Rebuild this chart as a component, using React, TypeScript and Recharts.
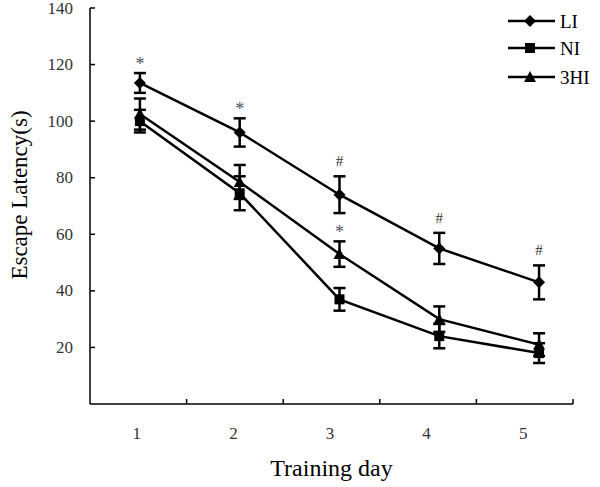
import React from "react";
import {
  LineChart,
  Line,
  XAxis,
  YAxis,
  ErrorBar,
  LabelList,
  Legend,
} from "recharts";

const days = [1, 2, 3, 4, 5];
const li = [113.5, 96, 74, 55, 43];
const liErr = [3.5, 5, 6.5, 5.5, 6];
const ni = [100, 74.5, 37, 24, 18];
const niErr = [4, 6, 4, 4.3, 3.5];
const hi3 = [102.5, 78.5, 53, 30, 21];
const hi3Err = [5.5, 6, 4.5, 4.5, 4];
const liMarks = ["*", "*", "#", "#", "#"];
const hi3Marks = ["", "", "*", "", ""];
const yTicks = [20, 40, 60, 80, 100, 120, 140];
const boundaryTicks = days.map((d) => d + 0.5);

const data = days.map((day, i) => ({
  day,
  li: li[i],
  liErr: liErr[i],
  liTop: li[i] + liErr[i],
  liMark: liMarks[i],
  ni: ni[i],
  niErr: niErr[i],
  hi3: hi3[i],
  hi3Err: hi3Err[i],
  hi3Top: hi3[i] + hi3Err[i],
  hi3Mark: hi3Marks[i],
}));

const FONT = "'Liberation Serif', 'Times New Roman', serif";

function Diamond({ cx, cy, r = 6 }: any) {
  return <path d={`M${cx},${cy - r} L${cx + r},${cy} L${cx},${cy + r} L${cx - r},${cy} Z`} fill="#000" />;
}
function Square({ cx, cy, r = 5 }: any) {
  return <rect x={cx - r} y={cy - r} width={r * 2} height={r * 2} fill="#000" />;
}
function Triangle({ cx, cy, r = 6 }: any) {
  return <path d={`M${cx},${cy - r} L${cx + r},${cy + r - 1} L${cx - r},${cy + r - 1} Z`} fill="#000" />;
}

const YTick = ({ x, y, payload }: any) => (
  <g>
    <line x1={x} x2={x + 5} y1={y} y2={y} stroke="#000" strokeWidth={1.5} />
    <text x={x - 17} y={y} textAnchor="end" dominantBaseline="central" fontSize={17} fill="#333" fontFamily={FONT}>
      {payload.value}
    </text>
  </g>
);

// integer ticks carry the day label, half ticks are the short inward marks between days
const XTick = ({ x, y, payload }: any) => {
  if (Number.isInteger(payload.value)) {
    return (
      <text x={x - 1.5} y={y + 29} textAnchor="middle" dominantBaseline="central" fontSize={17} fill="#333" fontFamily={FONT}>
        {payload.value}
      </text>
    );
  }
  return <line x1={x} x2={x} y1={y} y2={y - 5} stroke="#000" strokeWidth={1.5} />;
};

const Mark = ({ x, y, value }: any) => {
  if (!value) return null;
  const star = value === "*";
  return (
    <text
      x={x}
      y={star ? y - 9 : y - 15}
      textAnchor="middle"
      dominantBaseline="central"
      fontSize={star ? 18 : 15}
      fill={star ? "#4a5060" : "#333"}
      fontFamily={FONT}
    >
      {value}
    </text>
  );
};

const legendItems = [
  { name: "LI", Shape: Diamond },
  { name: "NI", Shape: Square },
  { name: "3HI", Shape: Triangle },
];
const legendRows = [21, 48, 77];

// legend drawn in page coordinates, wrapper pinned to the top left corner
const LegendBox = () => (
  <svg width={600} height={100} style={{ display: "block", overflow: "visible" }}>
    {legendItems.map((it, i) => {
      const cy = legendRows[i];
      return (
        <g key={it.name}>
          <line x1={508} x2={555} y1={cy} y2={cy} stroke="#000" strokeWidth={2.5} />
          <it.Shape cx={530} cy={cy} />
          <text x={560} y={cy} dominantBaseline="central" fontSize={19} fill="#000" fontFamily={FONT}>
            {it.name}
          </text>
        </g>
      );
    })}
  </svg>
);

export default function App() {
  return (
    <div style={{ position: "absolute", left: 0, top: 0, background: "#fff" }}>
      <LineChart width={600} height={487} data={data} margin={{ top: 8, right: 27, bottom: 0, left: 0 }}>
        <XAxis
          xAxisId="labels"
          dataKey="day"
          type="number"
          domain={[0.5, 5.5]}
          allowDataOverflow
          ticks={[...days, ...boundaryTicks].sort((a, b) => a - b)}
          interval={0}
          height={83}
          tickSize={0}
          tickMargin={0}
          tickLine={false}
          tick={<XTick />}
          axisLine={{ stroke: "#000", strokeWidth: 1.5 }}
          label={({ viewBox }: any) => (
            <text
              x={viewBox.x + viewBox.width / 2}
              y={468}
              textAnchor="middle"
              dominantBaseline="central"
              fontSize={24}
              fill="#000"
              fontFamily={FONT}
            >
              Training day
            </text>
          )}
        />
        <XAxis xAxisId="series" dataKey="day" type="number" domain={[0.5, 5.34]} allowDataOverflow hide />
        <YAxis
          domain={[0, 140]}
          ticks={yTicks}
          width={90}
          interval={0}
          tickSize={0}
          tickMargin={0}
          tickLine={false}
          tick={<YTick />}
          axisLine={{ stroke: "#000", strokeWidth: 1.5 }}
          label={() => (
            <text
              x={19}
              y={195}
              transform="rotate(-90 19 195)"
              textAnchor="middle"
              dominantBaseline="central"
              fontSize={23}
              fill="#000"
              fontFamily={FONT}
            >
              Escape Latency(s)
            </text>
          )}
        />
        <Legend
          layout="horizontal"
          verticalAlign="middle"
          wrapperStyle={{ left: 0, top: 0, width: 600, height: 100, pointerEvents: "none" }}
          content={() => <LegendBox />}
        />
        <Line
          xAxisId="series"
          dataKey="hi3"
          name="3HI"
          stroke="#000"
          strokeWidth={2.5}
          isAnimationActive={false}
          dot={(p: any) => <Triangle key={`hi3-${p.index}`} cx={p.cx} cy={p.cy} />}
          activeDot={false}
        >
          <ErrorBar dataKey="hi3Err" width={6} strokeWidth={2.5} stroke="#000" direction="y" isAnimationActive={false} />
        </Line>
        <Line
          xAxisId="series"
          dataKey="ni"
          name="NI"
          stroke="#000"
          strokeWidth={2.5}
          isAnimationActive={false}
          dot={(p: any) => <Square key={`ni-${p.index}`} cx={p.cx} cy={p.cy} />}
          activeDot={false}
        >
          <ErrorBar dataKey="niErr" width={6} strokeWidth={2.5} stroke="#000" direction="y" isAnimationActive={false} />
        </Line>
        <Line
          xAxisId="series"
          dataKey="li"
          name="LI"
          stroke="#000"
          strokeWidth={2.5}
          isAnimationActive={false}
          dot={(p: any) => <Diamond key={`li-${p.index}`} cx={p.cx} cy={p.cy} />}
          activeDot={false}
        >
          <ErrorBar dataKey="liErr" width={6} strokeWidth={2.5} stroke="#000" direction="y" isAnimationActive={false} />
        </Line>
        <Line
          xAxisId="series"
          dataKey="liTop"
          stroke="none"
          dot={false}
          activeDot={false}
          legendType="none"
          isAnimationActive={false}
        >
          <LabelList dataKey="liMark" content={<Mark />} />
        </Line>
        <Line
          xAxisId="series"
          dataKey="hi3Top"
          stroke="none"
          dot={false}
          activeDot={false}
          legendType="none"
          isAnimationActive={false}
        >
          <LabelList dataKey="hi3Mark" content={<Mark />} />
        </Line>
      </LineChart>
    </div>
  );
}
